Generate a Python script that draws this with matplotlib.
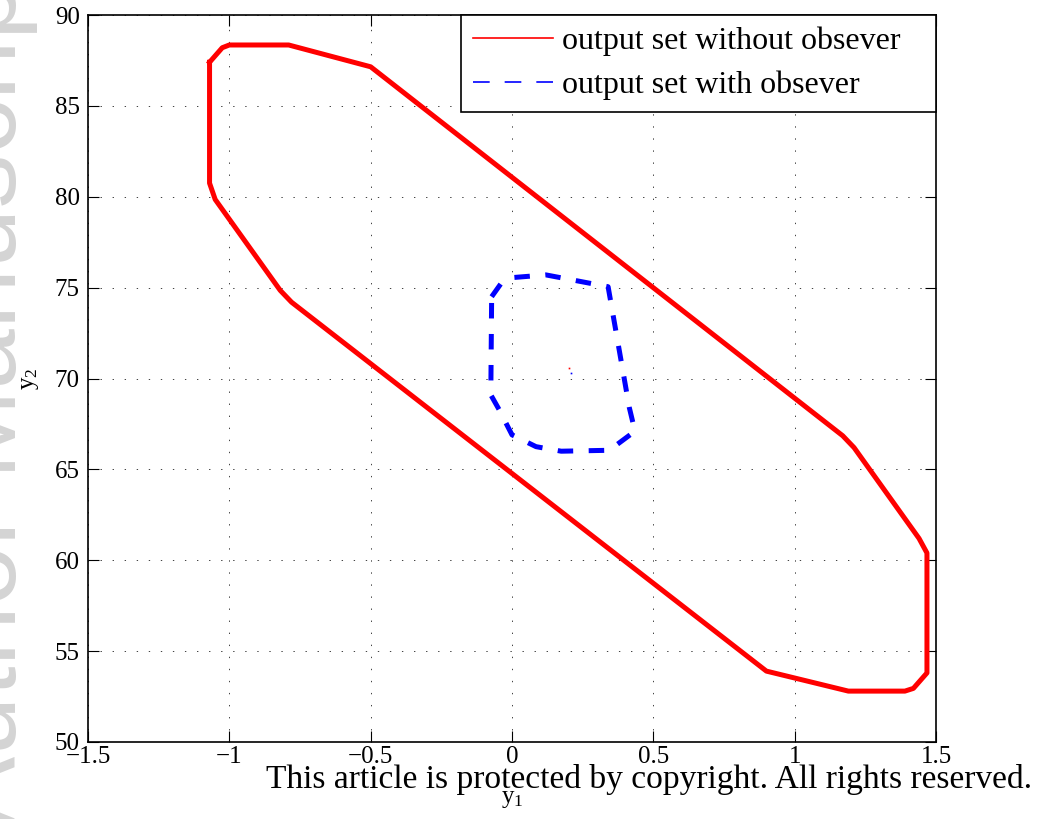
import matplotlib
matplotlib.use("Agg")
import matplotlib.pyplot as plt
from matplotlib.lines import Line2D

# Output set without observer (closed polygon, y1 / y2 vertices)
y1_without = [-1.07, -1.025, -1.00, -0.79, -0.50, 1.17, 1.21, 1.44, 1.468, 1.468,
              1.42, 1.39, 1.19, 0.90, -0.78, -0.82, -1.05, -1.07]
y2_without = [87.40, 88.20, 88.35, 88.35, 87.15, 66.85, 66.20, 61.20, 60.40, 53.80,
              52.95, 52.80, 52.80, 53.90, 74.20, 74.85, 79.85, 80.75]

# Output set with observer (closed polygon)
y1_with = [-0.072, -0.04, 0.00, 0.12, 0.34, 0.415, 0.435, 0.344, 0.174, 0.085,
           0.00, -0.046, -0.075]
y2_with = [74.50, 75.20, 75.55, 75.70, 75.05, 68.40, 67.10, 66.05, 66.00, 66.25,
           66.90, 68.30, 69.10]

# Centre points of the two sets
center_y1 = [0.20, 0.21]
center_y2 = [70.60, 70.30]
center_colors = ["red", "blue"]

x_ticks = [-1.5, -1, -0.5, 0, 0.5, 1, 1.5]
y_ticks = [50, 55, 60, 65, 70, 75, 80, 85, 90]
legend_labels = ["output set without obsever", "output set with obsever"]

plt.rcParams.update({
    "font.family": "Liberation Serif",
    "mathtext.fontset": "custom",
    "mathtext.rm": "Liberation Serif",
    "mathtext.it": "Liberation Serif:italic",
    "axes.unicode_minus": True,
})

W, H = 1037, 819
fig = plt.figure(figsize=(W / 100, H / 100), dpi=100)

# vertical watermark on the left margin
fig.text(16 / W, 1 - 828 / H, "Author Manuscript", rotation=90,
         rotation_mode="anchor", ha="left", va="baseline",
         fontsize=78, color="#d4d4d4", family="Liberation Sans", zorder=-1)

ax = fig.add_axes([88 / W, 1 - 742 / H, (936 - 88) / W, (742 - 15) / H])

ax.plot(y1_without + y1_without[:1], y2_without + y2_without[:1],
        color="red", lw=3.6, solid_joinstyle="round", zorder=3)
ax.plot(y1_with + y1_with[:1], y2_with + y2_with[:1],
        color="blue", lw=3.6, linestyle=(0, (3.1, 3.1)),
        dash_capstyle="butt", zorder=3)
for cx, cy, cc in zip(center_y1, center_y2, center_colors):
    ax.plot([cx], [cy], marker="s", ms=1.2, color=cc, mew=0, zorder=4)

ax.set_xlim(x_ticks[0], x_ticks[-1])
ax.set_ylim(y_ticks[0], y_ticks[-1])
ax.set_xticks(x_ticks)
ax.set_yticks(y_ticks)
ax.set_xticklabels(["\u22121.5", "\u22121", "\u22120.5", "0", "0.5", "1", "1.5"])
ax.set_yticklabels([str(v) for v in y_ticks])

ax.grid(True, color="#404040", lw=0.7, linestyle=(0, (1.4, 11)))
ax.set_axisbelow(True)
ax.tick_params(direction="in", length=8, width=0.8, top=True, right=True,
               labelsize=18)
ax.tick_params(axis="x", pad=3)
ax.tick_params(axis="y", pad=6)
for sp in ax.spines.values():
    sp.set_linewidth(1.2)

ax.set_xlabel(r"y$_{\mathregular{1}}$", fontsize=18, labelpad=14)
ax.set_ylabel(r"y$_{\mathregular{2}}$", fontsize=18, labelpad=10)

handles = [Line2D([], [], color="red", lw=1.2),
           Line2D([], [], color="blue", lw=1.2, linestyle=(0, (10, 9)))]
x0 = (461 - 88) / 848
leg = ax.legend(handles, legend_labels, loc="upper right", fontsize=23,
                bbox_to_anchor=(x0, 0.0, 1.0 - x0, 1.0), mode="expand",
                handlelength=2.5, handletextpad=0.3, borderaxespad=0,
                borderpad=0.375, labelspacing=0.45, fancybox=False,
                edgecolor="black", framealpha=1)
leg.get_frame().set_linewidth(1.2)

# copyright notice across the bottom
note = fig.text(1032 / W, 1 - 788 / H,
                "This article is protected by copyright. All rights reserved.",
                ha="right", va="baseline", fontsize=22, color="black", zorder=10)
renderer = fig.canvas.get_renderer()
width_px = note.get_window_extent(renderer).width
note.set_fontsize(22 * 764 / width_px)

fig.savefig("out.png", dpi=100)
